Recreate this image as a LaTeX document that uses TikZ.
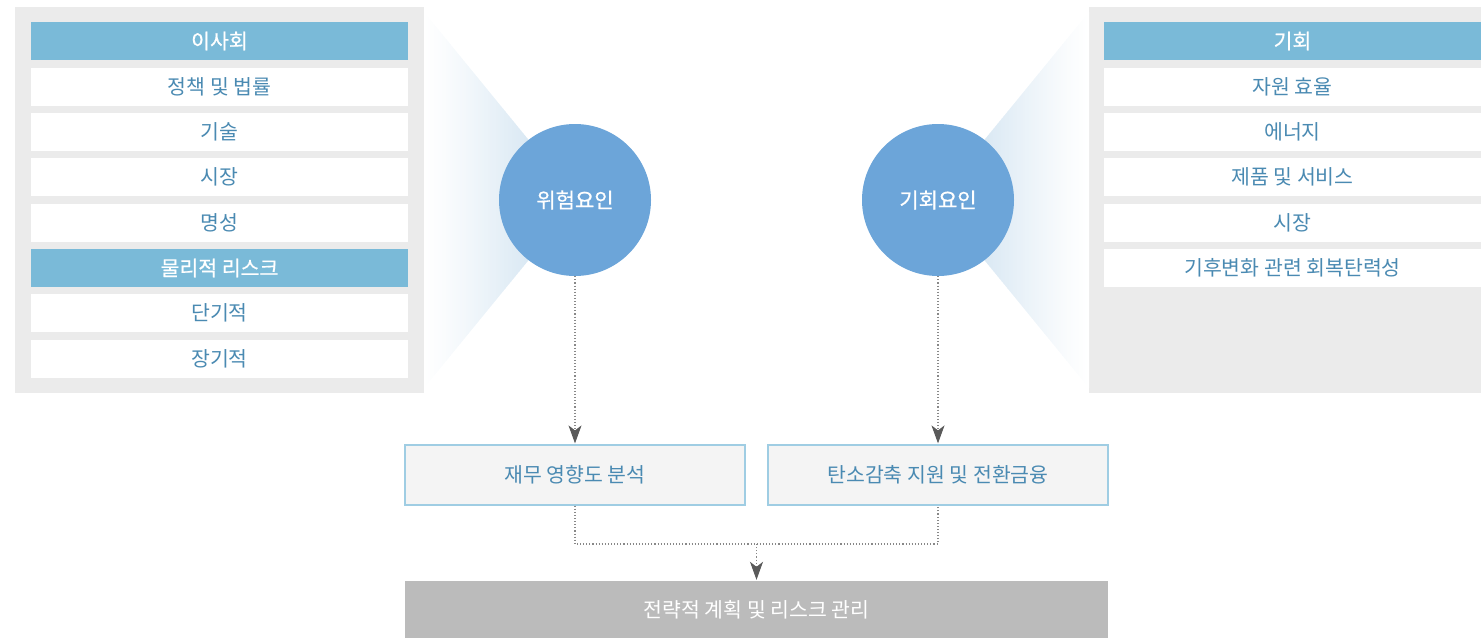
\documentclass[tikz,border=0pt]{standalone}
\usepackage{fontspec}
\setmainfont{Noto Sans CJK KR}
\newfontfamily\semibfont[FakeBold=0.7]{Noto Sans CJK KR}
\usetikzlibrary{arrows.meta}
\definecolor{panelgray}{HTML}{EBEBEB}
\definecolor{hdrblue}{HTML}{7ABAD8}
\definecolor{itemblue}{HTML}{4A8AB2}
\definecolor{circblue}{HTML}{6CA5D9}
\definecolor{fanblue}{HTML}{D3E4F1}
\definecolor{boxline}{HTML}{9FCDE3}
\definecolor{boxfill}{HTML}{F4F4F4}
\definecolor{botgray}{HTML}{BBBBBB}
\definecolor{dotgray}{HTML}{888888}
\definecolor{tipgray}{HTML}{5A5A5A}
\tikzset{
  txt/.style={font=\fontsize{20.5}{20.5}\selectfont},
  row/.style={txt, minimum width=377pt, minimum height=38pt, inner sep=0pt},
  hdr/.style={row, fill=hdrblue, text=white, font=\fontsize{20.5}{20.5}\semibfont},
  item/.style={row, fill=white, text=itemblue},
  circ/.style={circle, fill=circblue, minimum size=152pt, inner sep=0pt, text=white, font=\fontsize{21}{21}\semibfont},
  midbox/.style={txt, draw=boxline, line width=1.2pt, fill=boxfill, minimum width=340pt, minimum height=60pt, text=itemblue, inner sep=0pt},
  botbox/.style={txt, fill=botgray, minimum width=703pt, minimum height=57pt, text=white, inner sep=0pt},
  dotline/.style={draw=dotgray, line width=1.1pt, dotted},
  tipped/.style={dotline, -{Stealth[width=13pt,length=18pt,inset=5pt,fill=tipgray,color=tipgray]}, shorten >=1pt}
}
\begin{document}
\begin{tikzpicture}[x=1pt,y=-1pt]
\useasboundingbox (0,0) rectangle (1481,638);
% panels
\fill[panelgray] (15,7) rectangle (424,393);
\fill[panelgray] (1089,7) rectangle (1481,393);
% fans (drawn as thin strips to form a gradient)
\foreach \i in {0,...,59}{
  \pgfmathsetmacro{\ta}{\i/60}
  \pgfmathsetmacro{\tb}{(\i+1.3)/60}
  \pgfmathsetmacro{\pc}{100*pow((\i+0.5)/60,1.2)}
  \fill[fanblue!\pc!white]
    ({424+121*\ta},{12+148*\ta}) -- ({424+121*\tb},{12+148*\tb}) --
    ({424+121*\tb},{388-148*\tb}) -- ({424+121*\ta},{388-148*\ta}) -- cycle;
  \fill[fanblue!\pc!white]
    ({1089-121*\ta},{12+148*\ta}) -- ({1089-121*\tb},{12+148*\tb}) --
    ({1089-121*\tb},{388-148*\tb}) -- ({1089-121*\ta},{388-148*\ta}) -- cycle;
}
% left list
\node[hdr]  (l1) at (219.5,41)  {이사회};
\node[item] (l2) at (219.5,87)  {정책 및 법률};
\node[item] (l3) at (219.5,132) {기술};
\node[item] (l4) at (219.5,177) {시장};
\node[item] (l5) at (219.5,223) {명성};
\node[hdr]  (l6) at (219.5,268) {물리적 리스크};
\node[item] (l7) at (219.5,313) {단기적};
\node[item] (l8) at (219.5,359) {장기적};
% right list
\node[hdr]  (r1) at (1292.5,41)  {기회};
\node[item] (r2) at (1292.5,87)  {자원 효율};
\node[item] (r3) at (1292.5,132) {에너지};
\node[item] (r4) at (1292.5,177) {제품 및 서비스};
\node[item] (r5) at (1292.5,223) {시장};
\node[item] (r6) at (1292.5,268) {기후변화 관련 회복탄력성};
% circles
\node[circ] (c1) at (575,200) {위험요인};
\node[circ] (c2) at (938,200) {기회요인};
% middle boxes
\node[midbox] (b1) at (575,475) {재무 영향도 분석};
\node[midbox] (b2) at (938,475) {탄소감축 지원 및 전환금융};
% bottom box
\node[botbox] (bt) at (756.5,609.5) {전략적 계획 및 리스크 관리};
% connectors
\draw[tipped] (c1.south) -- (b1.north);
\draw[tipped] (c2.south) -- (b2.north);
\coordinate (j) at (756.5,544);
\draw[dotline] (b1.south) |- (j) -| (b2.south);
\draw[tipped] (j) -- (bt.north);
\end{tikzpicture}
\end{document}
